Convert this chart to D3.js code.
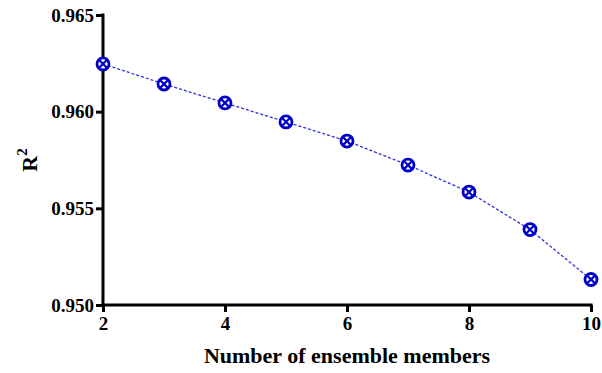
<!DOCTYPE html>
<html>
<head>
<meta charset="utf-8">
<script src="https://cdn.jsdelivr.net/npm/d3@7"></script>
<style>
  body { margin: 0; background: #fff; }
  svg text { font-family: "Liberation Serif", "Times New Roman", serif; font-weight: bold; }
</style>
</head>
<body>
<script>
var members = [2, 3, 4, 5, 6, 7, 8, 9, 10],
    r2 = [0.96247, 0.96143, 0.96045, 0.95947, 0.95848, 0.95724, 0.95584, 0.95390, 0.95132],
    xTicks = [2, 4, 6, 8, 10],
    yTicks = [0.950, 0.955, 0.960, 0.965];

var W = 602, H = 373,
    margin = {left: 103, right: 11, top: 15, bottom: 68};

var svg = d3.select("body").append("svg").attr("width", W).attr("height", H);

var x = d3.scaleLinear().domain([2, 10]).range([margin.left, W - margin.right]),
    y = d3.scaleLinear().domain([0.950, 0.965]).range([H - margin.bottom, margin.top]);

// axes
var xAxis = svg.append("g")
  .attr("transform", "translate(0," + y(0.950) + ")")
  .call(d3.axisBottom(x).tickValues(xTicks).tickSize(7).tickPadding(5).tickFormat(d3.format("d")));
var yAxis = svg.append("g")
  .attr("transform", "translate(" + x(2) + ",0)")
  .call(d3.axisLeft(y).tickValues(yTicks).tickSize(7).tickPadding(2).tickFormat(d3.format(".3f")));

[xAxis, yAxis].forEach(function (a) {
  a.select(".domain").attr("stroke", "#000").attr("stroke-width", 3);
  a.selectAll(".tick line").attr("stroke", "#000").attr("stroke-width", 3);
  a.selectAll(".tick text").attr("fill", "#000").style("font-size", "19px");
});
// plain domain lines, no outer ticks
xAxis.select(".domain").attr("d", "M" + (x(2) - 1.5) + ",0H" + (x(10) + 1.5));
yAxis.select(".domain").attr("d", "M0," + (y(0.965) - 1.5) + "V" + (y(0.950) + 1.5));

// axis titles
svg.append("text")
  .attr("x", (x(2) + x(10)) / 2)
  .attr("y", 363)
  .attr("text-anchor", "middle")
  .style("font-size", "22px")
  .text("Number of ensemble members");

var yt = svg.append("text")
  .attr("transform", "translate(37," + ((y(0.950) + y(0.965)) / 2) + ") rotate(-90)")
  .attr("text-anchor", "middle")
  .style("font-size", "22px");
yt.append("tspan").text("R");
yt.append("tspan").attr("dy", -10).style("font-size", "15px").text("2");

// line
var line = d3.line().x(function (d, i) { return x(members[i]); }).y(function (d) { return y(d); });
svg.append("path")
  .datum(r2)
  .attr("d", line)
  .attr("fill", "none")
  .attr("stroke", "#3030e0")
  .attr("stroke-width", 1.3)
  .attr("stroke-dasharray", "3,2");

// markers: circle with X
var R = 6, k = R * 0.68;
var pts = svg.selectAll("g.pt").data(r2).enter().append("g")
  .attr("class", "pt")
  .attr("transform", function (d, i) { return "translate(" + x(members[i]) + "," + y(d) + ")"; });
pts.append("circle").attr("r", R).attr("fill", "#fff").attr("stroke", "#0000c8").attr("stroke-width", 2.8);
pts.append("path")
  .attr("d", "M" + (-k) + "," + (-k) + "L" + k + "," + k + "M" + (-k) + "," + k + "L" + k + "," + (-k))
  .attr("stroke", "#0000c8").attr("stroke-width", 2.2);
</script>
</body>
</html>
